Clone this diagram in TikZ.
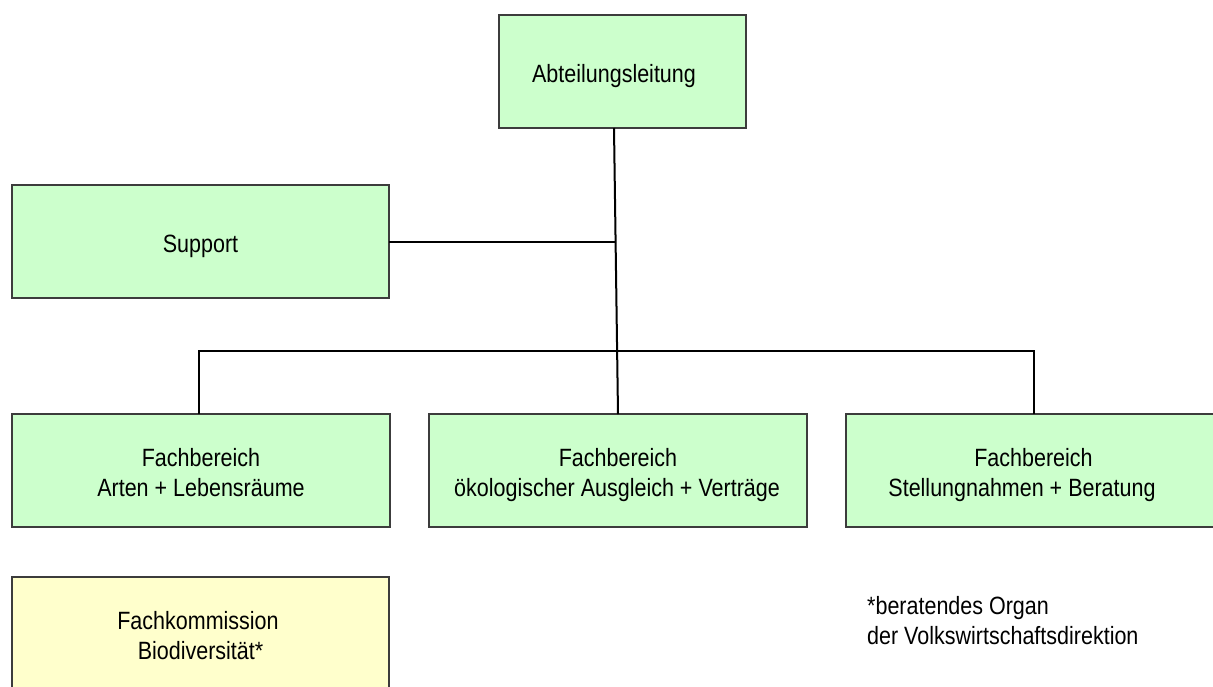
\documentclass[tikz,border=0pt]{standalone}
\usepackage{fontspec}
\setmainfont[FakeStretch=0.86]{Liberation Sans}
\usetikzlibrary{calc}
\definecolor{boxgreen}{RGB}{204,255,204}
\definecolor{boxyellow}{RGB}{255,255,204}
\definecolor{edgecol}{RGB}{60,60,60}
\begin{document}
\begin{tikzpicture}[x=1pt,y=-1pt,
  box/.style={draw=edgecol, line width=1.5pt, rectangle, inner sep=0pt, outer sep=0pt, anchor=north west, minimum height=113pt},
  txt/.style={anchor=base, inner sep=0pt, font=\fontsize{25}{30}\selectfont},
  conn/.style={draw=black, line width=2pt}]
\useasboundingbox (0,0) rectangle (1213,686);
% boxes
\node[box, fill=boxgreen, minimum width=247pt] (abt) at (499,15) {};
\node[box, fill=boxgreen, minimum width=377pt] (sup) at (12,185) {};
\node[box, fill=boxgreen, minimum width=378pt] (fb1) at (12,414) {};
\node[box, fill=boxgreen, minimum width=378pt] (fb2) at (429,414) {};
\node[box, fill=boxgreen, minimum width=378pt] (fb3) at (846,414) {};
\node[box, fill=boxyellow, minimum width=377pt] (fk) at (12,577) {};
% texts
\node[txt] (tabt) at (614,82) {Abteilungsleitung};
\node[txt] (tsup) at (200.5,252) {Support};
\node[txt] (tfb1a) at (201,466) {Fachbereich};
\node[txt] (tfb1b) at (201,496) {Arten + Lebensräume};
\node[txt] (tfb2a) at (618,466) {Fachbereich};
\node[txt] (tfb2b) at (617,496) {ökologischer Ausgleich + Verträge};
\node[txt] (tfb3a) at (1033.5,466) {Fachbereich};
\node[txt] (tfb3b) at (1022,496) {Stellungnahmen + Beratung};
\node[txt] (tfka) at (198,629) {Fachkommission};
\node[txt] (tfkb) at (200.5,659) {Biodiversität*};
\node[txt, anchor=base west] (n1) at (867,614) {*beratendes Organ};
\node[txt, anchor=base west] (n2) at (867,644) {der Volkswirtschaftsdirektion};
% connectors
\coordinate (trunkTop) at (614,128);
\coordinate (trunkBot) at (618,414);
\coordinate (supJ) at (615.6,241.5);
\coordinate (busL) at (199,351);
\coordinate (busR) at (1034,351);
\draw[conn] (abt.south -| trunkTop) -- (fb2.north -| trunkBot);
\draw[conn] (sup.east) -- (supJ);
\draw[conn] (fb1.north -| busL) -- (busL) -- (busR) -- (fb3.north -| busR);
\end{tikzpicture}
\end{document}
